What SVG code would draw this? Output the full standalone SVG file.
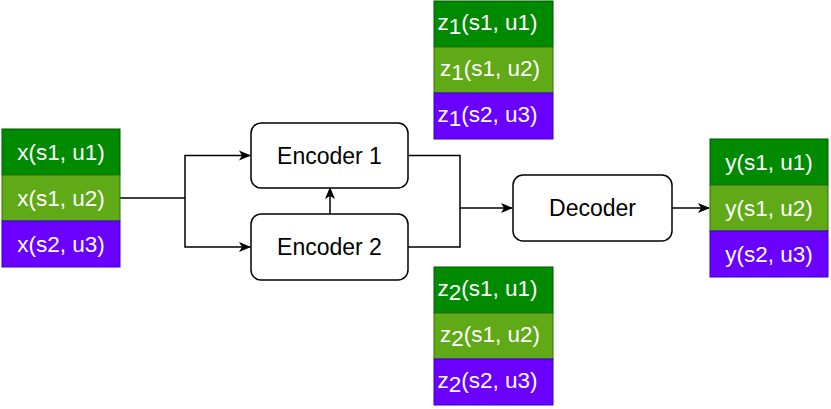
<svg xmlns="http://www.w3.org/2000/svg" width="831" height="409" viewBox="0 0 831 409">
<style>
.dg{fill:#008a00;stroke:#005700;stroke-width:1}
.lg{fill:#60a917;stroke:#2d7600;stroke-width:1}
.pu{fill:#6a00ff;stroke:#3700cc;stroke-width:1}
.lab{font-family:"Liberation Sans",Arial,sans-serif;font-size:22.5px;fill:#ffffff;text-anchor:middle}
.box{fill:#ffffff;stroke:#000000;stroke-width:1.5}
.nt{font-family:"Liberation Sans",Arial,sans-serif;font-size:23px;fill:#000000;text-anchor:middle}
.edge{fill:none;stroke:#000000;stroke-width:1.5}
</style>
<defs>
<marker id="arr" viewBox="0 0 12 12" refX="11" refY="6" markerWidth="12" markerHeight="12" markerUnits="userSpaceOnUse" orient="auto">
<path d="M0,1 L12,6 L0,11 L3,6 Z" fill="#000"/>
</marker>
</defs>
<g id="connectors">
<path class="edge" d="M120,198 H185"/>
<path class="edge" d="M185,198 V155.5 H250" marker-end="url(#arr)"/>
<path class="edge" d="M185,198 V247 H250" marker-end="url(#arr)"/>
<path class="edge" d="M330,214 V188" marker-end="url(#arr)"/>
<path class="edge" d="M408,155.5 H460 V208 H512" marker-end="url(#arr)"/>
<path class="edge" d="M408,247 H460 V208"/>
<path class="edge" d="M672,208 H709" marker-end="url(#arr)"/>
</g>
<g id="x-stack">
<rect class="dg" x="2" y="129" width="118" height="46"/>
<rect class="lg" x="2" y="175" width="118" height="46"/>
<rect class="pu" x="2" y="221" width="118" height="46"/>
<text class="lab" x="61" y="160">x(s1, u1)</text>
<text class="lab" x="61" y="206">x(s1, u2)</text>
<text class="lab" x="61" y="252">x(s2, u3)</text>
</g>
<g id="encoder1">
<rect class="box" x="251" y="123" width="157" height="65" rx="10"/>
<text class="nt" x="329.5" y="163.5">Encoder 1</text>
</g>
<g id="encoder2">
<rect class="box" x="251" y="214" width="157" height="66" rx="10"/>
<text class="nt" x="329.5" y="255">Encoder 2</text>
</g>
<g id="decoder">
<rect class="box" x="513" y="175" width="159" height="66" rx="10"/>
<text class="nt" x="592.5" y="216">Decoder</text>
</g>
<g id="z1-stack">
<rect class="dg" x="434" y="1" width="119" height="46"/>
<rect class="lg" x="434" y="47" width="119" height="46"/>
<rect class="pu" x="434" y="93" width="119" height="46"/>
<text class="lab" x="487.5" y="30">z<tspan dy="4">1</tspan><tspan dy="-4">(s1, u1)</tspan></text>
<text class="lab" x="490" y="76">z<tspan dy="4">1</tspan><tspan dy="-4">(s1, u2)</tspan></text>
<text class="lab" x="487.5" y="122">z<tspan dy="4">1</tspan><tspan dy="-4">(s2, u3)</tspan></text>
</g>
<g id="z2-stack">
<rect class="dg" x="434" y="267" width="119" height="46"/>
<rect class="lg" x="434" y="313" width="119" height="46"/>
<rect class="pu" x="434" y="359" width="119" height="46"/>
<text class="lab" x="487.5" y="296">z<tspan dy="4">2</tspan><tspan dy="-4">(s1, u1)</tspan></text>
<text class="lab" x="490" y="342">z<tspan dy="4">2</tspan><tspan dy="-4">(s1, u2)</tspan></text>
<text class="lab" x="487.5" y="388">z<tspan dy="4">2</tspan><tspan dy="-4">(s2, u3)</tspan></text>
</g>
<g id="y-stack">
<rect class="dg" x="710" y="139" width="118" height="46"/>
<rect class="lg" x="710" y="185" width="118" height="46"/>
<rect class="pu" x="710" y="231" width="118" height="46"/>
<text class="lab" x="769" y="170">y(s1, u1)</text>
<text class="lab" x="769" y="216">y(s1, u2)</text>
<text class="lab" x="769" y="262">y(s2, u3)</text>
</g>
</svg>
